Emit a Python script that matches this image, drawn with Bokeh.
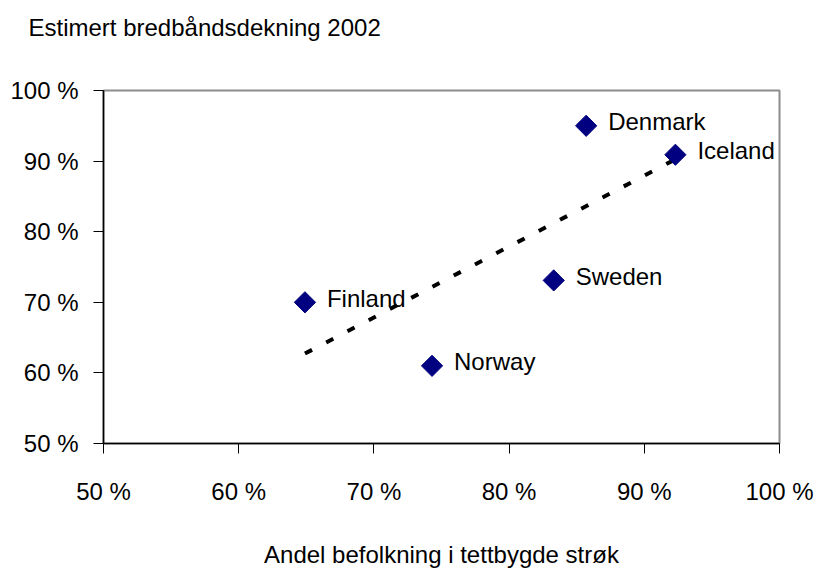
import numpy as np
from bokeh.plotting import figure
from bokeh.models import Range1d, FixedTicker, ColumnDataSource, Title
from bokeh.core.properties import value
from bokeh.embed import file_html
from bokeh.resources import INLINE

# Estimated broadband coverage vs. share of population in urban areas (%)
countries = ["Finland", "Norway", "Sweden", "Denmark", "Iceland"]
urban_share = [64.9, 74.3, 83.3, 85.7, 92.3]
coverage = [70.0, 61.0, 73.1, 95.0, 90.9]

tick_values = [50, 60, 70, 80, 90, 100]
tick_labels = ["50 %", "60 %", "70 %", "80 %", "90 %", "100 %"]

title_text = "Estimert bredbåndsdekning 2002"
x_title = "Andel befolkning i tettbygde strøk"

FONT = "Liberation Sans"
FS = "24px"

p = figure(width=816, height=572, output_backend="svg", toolbar_location=None,
           x_range=Range1d(50, 100), y_range=Range1d(50, 100),
           min_border_left=103, min_border_right=37,
           min_border_top=90, min_border_bottom=129)
p.background_fill_color = "white"
p.border_fill_color = "white"
p.outline_line_color = "#8c8c8c"
p.outline_line_width = 2
p.xgrid.visible = False
p.ygrid.visible = False

# Heading: outermost panel above the plot, pushed up by a thin spacer panel
p.title.text = title_text
p.title.text_font = FONT
p.title.text_font_size = FS
p.title.text_font_style = "normal"
p.title.text_color = "black"
p.title.align = "left"
p.title.offset = -75
p.title.standoff = 0
p.add_layout(Title(text=" ", text_font_size="1px", standoff=47), "above")

labels_map = dict(zip(tick_values, tick_labels))
for ax in (p.xaxis[0], p.yaxis[0]):
    ax.ticker = FixedTicker(ticks=tick_values)
    ax.major_label_overrides = labels_map
    ax.minor_tick_line_color = None
    ax.major_tick_in = 0
    ax.major_tick_out = 10
    ax.major_tick_line_color = "black"
    ax.axis_line_color = "black"
    ax.axis_line_width = 1.5
    ax.major_label_text_font = FONT
    ax.major_label_text_font_size = FS
    ax.major_label_text_color = "black"

p.xaxis[0].major_label_standoff = 24
p.yaxis[0].major_label_standoff = 15
p.xaxis[0].axis_label = x_title
p.xaxis[0].axis_label_text_font = FONT
p.xaxis[0].axis_label_text_font_size = FS
p.xaxis[0].axis_label_text_font_style = "normal"
p.xaxis[0].axis_label_text_color = "black"
p.xaxis[0].axis_label_standoff = 33

# Linear trendline fitted to the points
slope, intercept = np.polyfit(urban_share, coverage, 1)
tx = [min(urban_share), max(urban_share)]
ty = [slope * v + intercept for v in tx]
p.line(tx, ty, line_color="black", line_width=4, line_dash="8 16")

src = ColumnDataSource(dict(x=urban_share, y=coverage, name=countries))
p.scatter("x", "y", source=src, marker="square", angle=np.pi / 4, size=15,
          fill_color="#000080", line_color="#000080")
p.text("x", "y", text="name", source=src, x_offset=22, y_offset=-4,
       text_baseline="middle", text_align="left",
       text_font=value(FONT), text_font_size=FS, text_color="black")

open("out.html", "w").write(file_html(p, INLINE))
